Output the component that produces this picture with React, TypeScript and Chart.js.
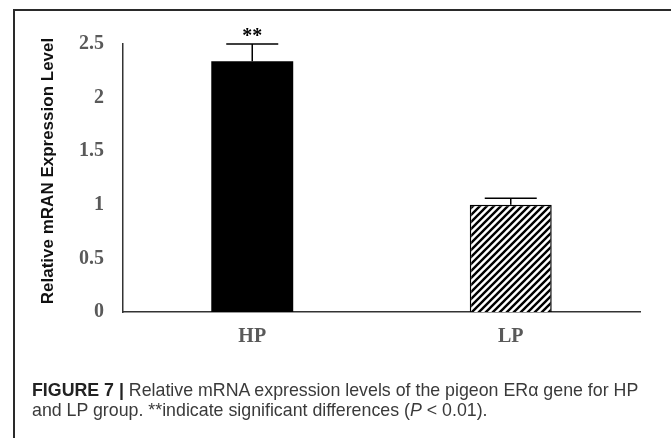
import React, { useEffect, useRef } from "react";
import { Chart, registerables } from "chart.js";

Chart.register(...registerables);

const categories = ["HP", "LP"];
const values = [2.34, 1.0];
const errors = [0.16, 0.06];
const sigMarks = ["**", ""];
const yTicks = [0, 0.5, 1, 1.5, 2, 2.5];
const yTitle = "Relative mRAN Expression Level";

const SERIF = "'Liberation Serif', 'Times New Roman', serif";
const SANS = "'Liberation Sans', Arial, sans-serif";

function makeHatch(ctx: CanvasRenderingContext2D) {
  const s = 7;
  const c = document.createElement("canvas");
  c.width = s;
  c.height = s;
  const g = c.getContext("2d")!;
  g.fillStyle = "#ffffff";
  g.fillRect(0, 0, s, s);
  g.strokeStyle = "#000000";
  g.lineWidth = 2.4;
  g.beginPath();
  g.moveTo(-1, 1);
  g.lineTo(1, -1);
  g.moveTo(-1, s + 1);
  g.lineTo(s + 1, -1);
  g.moveTo(s - 1, s + 1);
  g.lineTo(s + 1, s - 1);
  g.stroke();
  return ctx.createPattern(c, "repeat")!;
}

const overlay = {
  id: "overlay",
  afterDatasetsDraw(chart: any) {
    const { ctx } = chart;
    const x = chart.scales.x;
    const y = chart.scales.y;
    ctx.save();
    ctx.strokeStyle = "#000";
    ctx.lineWidth = 1.5;
    values.forEach((v, i) => {
      const px = x.getPixelForValue(i);
      const top = y.getPixelForValue(v);
      const et = y.getPixelForValue(v + errors[i]);
      const half = 26;
      ctx.beginPath();
      ctx.moveTo(px, top);
      ctx.lineTo(px, et);
      ctx.moveTo(px - half, et);
      ctx.lineTo(px + half, et);
      ctx.stroke();
      if (sigMarks[i]) {
        ctx.fillStyle = "#000";
        ctx.font = `bold 20px ${SERIF}`;
        ctx.textAlign = "center";
        ctx.textBaseline = "alphabetic";
        ctx.fillText(sigMarks[i], px, et - 2);
      }
    });
    ctx.translate(48, 171);
    ctx.rotate(-Math.PI / 2);
    ctx.font = `bold 17px ${SANS}`;
    ctx.fillStyle = "#111";
    ctx.textAlign = "center";
    ctx.textBaseline = "middle";
    ctx.fillText(yTitle, 0, 0);
    ctx.restore();
  },
};

function BarChart() {
  const ref = useRef<HTMLCanvasElement | null>(null);
  useEffect(() => {
    const canvas = ref.current!;
    const ctx = canvas.getContext("2d")!;
    const hatch = makeHatch(ctx);
    const tickFont = { family: SERIF, size: 20, weight: "bold" as const };
    const chart = new Chart(canvas, {
      type: "bar",
      data: {
        labels: categories,
        datasets: [
          {
            data: values,
            backgroundColor: ["#000000", hatch as any],
            borderColor: "#000000",
            borderWidth: [0, 1.5],
            barPercentage: 0.317,
            categoryPercentage: 1,
          },
        ],
      },
      options: {
        responsive: false,
        animation: false,
        layout: { padding: { top: 44, right: 31, left: 0, bottom: 0 } },
        plugins: { legend: { display: false }, tooltip: { enabled: false } },
        scales: {
          x: {
            grid: { display: false, drawTicks: false },
            border: { display: true, color: "#333", width: 1.5 },
            ticks: { color: "#595959", font: tickFont, padding: 13 },
            afterFit: (s: any) => {
              s.height = 126;
            },
          },
          y: {
            min: 0,
            max: 2.5,
            afterBuildTicks: (s: any) => {
              s.ticks = yTicks.map((v) => ({ value: v }));
            },
            grid: { display: false, drawTicks: false },
            border: { display: true, color: "#333", width: 1.5 },
            ticks: {
              color: "#595959",
              font: tickFont,
              padding: 19,
              callback: (v: any) => String(v),
            },
            afterFit: (s: any) => {
              s.width = 123;
            },
          },
        },
      },
      plugins: [overlay],
    });
    return () => chart.destroy();
  }, []);
  return <canvas ref={ref} width={671} height={438} style={{ display: "block" }} />;
}

export default function App() {
  return (
    <div style={{ position: "absolute", left: 0, top: 0, width: 671, height: 438, background: "#fff", overflow: "hidden" }}>
      <BarChart />
      <div
        style={{
          position: "absolute",
          left: 13,
          top: 9,
          width: 670,
          height: 440,
          borderTop: "2px solid #2a2a2a",
          borderLeft: "2px solid #2a2a2a",
          boxSizing: "border-box",
          pointerEvents: "none",
        }}
      />
      <div
        style={{
          position: "absolute",
          left: 32,
          top: 381,
          whiteSpace: "nowrap",
          fontFamily: SANS,
          fontSize: 17.8,
          lineHeight: "19.5px",
          color: "#3a3a3a",
        }}
      >
        <span style={{ fontWeight: "bold", color: "#222" }}>FIGURE 7 |</span> Relative mRNA expression levels of the pigeon ERα gene for HP
        <br />
        and LP group. **indicate significant differences (<i>P</i> &lt; 0.01).
      </div>
    </div>
  );
}
